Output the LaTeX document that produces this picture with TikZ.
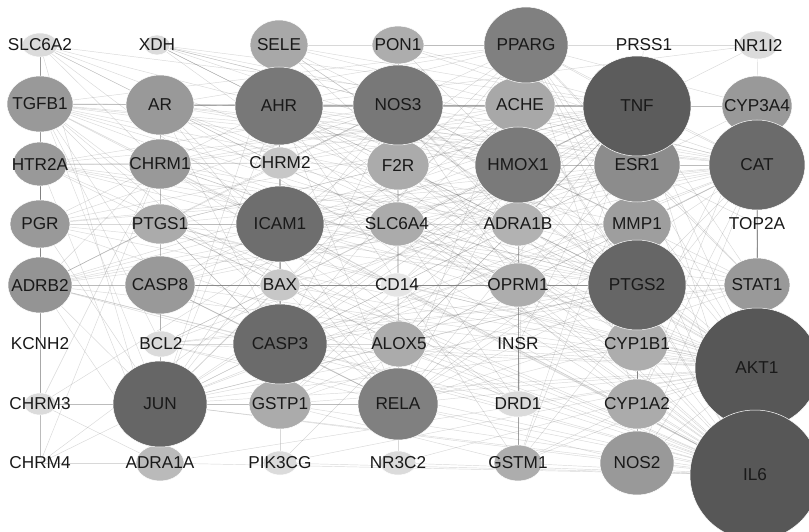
\documentclass[tikz,border=0pt]{standalone}
\usepackage{fontspec}
\setmainfont{Liberation Sans}
\usetikzlibrary{shapes.geometric}
\pgfdeclarelayer{bg}
\pgfsetlayers{bg,main}
\tikzset{
  gnode/.style={ellipse,inner sep=0pt,draw=white,line width=0.5pt,
    font=\fontsize{17.2}{18}\selectfont,text=black!90},
  tnode/.style={inner sep=0pt,font=\fontsize{17.2}{18}\selectfont,text=black!90},
  edge/.style={draw=black!55,line width=0.45pt,opacity=0.28}
}
\newcommand\gn[6]{\node[gnode,minimum width=#4pt,minimum height=#5pt,fill=black!#6] (#1) at (#2,#3) {\makebox[0pt]{#1}};}
\newcommand\tn[3]{\node[tnode] (#1) at (#2,#3) {\makebox[0pt]{#1}};}
\begin{document}
\begin{tikzpicture}[x=1pt,y=-1pt]
\useasboundingbox (0,0) rectangle (809,532);
% text-only
\tn{PRSS1}{644}{45}
\tn{TOP2A}{757}{224}
\tn{KCNH2}{40}{344}
\tn{INSR}{518}{344}
\tn{CHRM4}{40}{463}
% very light
\gn{SLC6A2}{40}{45}{36}{24}{14}
\gn{XDH}{157}{45}{26}{20}{14}
\gn{NR1I2}{758}{45}{40}{28}{14}
\gn{CD14}{397}{285}{34}{24}{10}
\gn{BCL2}{161}{344}{36}{26}{14}
\gn{CHRM3}{40}{404}{32}{22}{14}
\gn{DRD1}{518}{404}{44}{26}{14}
\gn{PIK3CG}{280}{463}{34}{24}{14}
\gn{NR3C2}{398}{463}{36}{24}{14}
\gn{CHRM2}{280}{163}{40}{32}{22}
\gn{BAX}{280}{285}{40}{32}{22}
% light-medium
\gn{ADRA1A}{160}{463}{48}{36}{27}
\gn{PON1}{398}{45}{52}{38}{32}
\gn{SELE}{279}{45}{58}{50}{34}
\gn{ACHE}{520}{105}{70}{56}{34}
\gn{F2R}{398}{165}{62}{50}{33}
\gn{PTGS1}{160}{224}{56}{40}{33}
\gn{SLC6A4}{397}{224}{56}{44}{33}
\gn{ADRA1B}{518}{224}{54}{44}{30}
\gn{OPRM1}{518}{285}{58}{44}{32}
\gn{ALOX5}{399}{344}{54}{46}{33}
\gn{CYP1B1}{637}{344}{62}{54}{32}
\gn{GSTP1}{280}{404}{62}{50}{33}
\gn{CYP1A2}{637}{404}{62}{50}{33}
\gn{GSTM1}{518}{463}{48}{36}{32}
% medium
\gn{TGFB1}{40}{104}{66}{56}{40}
\gn{AR}{160}{105}{68}{60}{40}
\gn{CYP3A4}{757}{106}{70}{60}{40}
\gn{HTR2A}{40}{164}{54}{44}{40}
\gn{CHRM1}{160}{164}{62}{50}{40}
\gn{PGR}{40}{224}{60}{48}{40}
\gn{MMP1}{637}{224}{68}{56}{38}
\gn{ADRB2}{40}{285}{64}{56}{42}
\gn{CASP8}{160}{285}{70}{58}{40}
\gn{STAT1}{757}{285}{66}{54}{40}
\gn{NOS2}{637}{463}{74}{64}{40}
\gn{ESR1}{637}{165}{86}{74}{45}
% darker
\gn{PPARG}{526}{45}{84}{76}{50}
\gn{AHR}{279}{106}{88}{78}{53}
\gn{NOS3}{398}{105}{90}{80}{53}
\gn{HMOX1}{518}{165}{86}{76}{52}
\gn{RELA}{398}{404}{80}{72}{50}
\gn{ICAM1}{280}{224}{88}{76}{57}
\gn{CASP3}{280}{344}{94}{80}{58}
\gn{CAT}{757}{165}{96}{90}{58}
\gn{PTGS2}{637}{285}{98}{90}{60}
\gn{JUN}{160}{404}{94}{86}{60}
\gn{TNF}{637}{106}{108}{100}{64}
\gn{AKT1}{757}{368}{124}{120}{66}
\gn{IL6}{755}{475}{130}{130}{66}
\begin{pgfonlayer}{bg}
\foreach \t in {TGFB1,AR,AHR,NOS3,ACHE,TNF,HTR2A,CHRM1,F2R,HMOX1,ESR1,CAT,PGR,PTGS1,ICAM1,SLC6A4,MMP1,ADRB2,CASP8,BAX,CD14,OPRM1,PTGS2,STAT1,BCL2,CASP3,ALOX5,INSR,CYP1B1,AKT1,JUN,GSTP1,RELA,CYP1A2,GSTM1,NOS2,PIK3CG,NR3C2,SELE,PPARG,XDH,ADRA1A}
  \draw[edge] (IL6) -- (\t);
\foreach \t in {TGFB1,AR,AHR,NOS3,TNF,CYP3A4,CHRM1,F2R,HMOX1,ESR1,CAT,PGR,PTGS1,ICAM1,SLC6A4,MMP1,TOP2A,ADRB2,CASP8,BAX,CD14,OPRM1,PTGS2,STAT1,BCL2,CASP3,ALOX5,INSR,CYP1B1,JUN,GSTP1,RELA,DRD1,CYP1A2,GSTM1,NOS2,PIK3CG,NR3C2,SELE,PPARG,ADRA1A,ADRA1B}
  \draw[edge] (AKT1) -- (\t);
\foreach \t in {TGFB1,AR,AHR,NOS3,ACHE,CYP3A4,HTR2A,CHRM1,CHRM2,F2R,HMOX1,ESR1,CAT,PGR,PTGS1,ICAM1,SLC6A4,ADRA1B,MMP1,ADRB2,CASP8,BAX,CD14,OPRM1,PTGS2,STAT1,BCL2,CASP3,ALOX5,INSR,CYP1B1,JUN,GSTP1,RELA,CYP1A2,GSTM1,NOS2,PIK3CG,SELE,PPARG,PON1,XDH,PRSS1,NR1I2}
  \draw[edge] (TNF) -- (\t);
\foreach \t in {TGFB1,AR,AHR,NOS3,ACHE,HTR2A,CHRM1,F2R,HMOX1,ESR1,CAT,PGR,PTGS1,ICAM1,SLC6A4,MMP1,ADRB2,CASP8,BAX,CD14,OPRM1,STAT1,BCL2,CASP3,ALOX5,CYP1B1,JUN,GSTP1,RELA,CYP1A2,NOS2,PPARG,SELE,XDH}
  \draw[edge] (PTGS2) -- (\t);
\foreach \t in {TGFB1,AR,AHR,NOS3,ACHE,HMOX1,ESR1,PGR,PTGS1,ICAM1,MMP1,ADRB2,CASP8,BAX,CASP3,ALOX5,JUN,GSTP1,RELA,CYP1A2,NOS2,PPARG,SELE,XDH,PON1,STAT1,GSTM1}
  \draw[edge] (CAT) -- (\t);
\foreach \t in {TGFB1,AR,AHR,NOS3,HMOX1,ESR1,PGR,ICAM1,MMP1,ADRB2,CASP8,BAX,CASP3,ALOX5,GSTP1,RELA,CYP1B1,STAT1,NOS2,PPARG,CHRM3,ADRA1A,CHRM4,SELE}
  \draw[edge] (JUN) -- (\t);
\foreach \t in {TGFB1,AR,AHR,NOS3,HMOX1,ESR1,ICAM1,CASP8,BAX,BCL2,MMP1,RELA,GSTP1,ALOX5,STAT1,PPARG,ADRB2,PTGS1,SELE}
  \draw[edge] (CASP3) -- (\t);
\foreach \t in {TGFB1,AR,AHR,NOS3,HMOX1,ESR1,SELE,RELA,STAT1,MMP1,PPARG,CD14,ADRB2,PGR,CASP8,GSTP1,CHRM2,BAX}
  \draw[edge] (ICAM1) -- (\t);
\foreach \t in {TGFB1,AR,AHR,ACHE,HMOX1,ESR1,PPARG,PON1,SELE,F2R,ADRB2,PGR,RELA,MMP1,CHRM1,CHRM2,HTR2A,ADRA1B,SLC6A4,OPRM1,XDH}
  \draw[edge] (NOS3) -- (\t);
\foreach \t in {TGFB1,AR,HMOX1,ESR1,PPARG,CYP1B1,CYP1A2,CYP3A4,NR1I2,ACHE,SLC6A2,XDH,PGR,GSTM1,GSTP1,RELA,STAT1,CHRM2}
  \draw[edge] (AHR) -- (\t);
\foreach \t in {TGFB1,AR,ESR1,PPARG,RELA,GSTP1,GSTM1,STAT1,MMP1,XDH,PON1,ALOX5}
  \draw[edge] (HMOX1) -- (\t);
\foreach \t in {TGFB1,AR,ESR1,RELA,MMP1,STAT1,PON1,CYP1A2,CYP3A4,NR1I2,GSTM1,SELE,ACHE}
  \draw[edge] (PPARG) -- (\t);
\foreach \t in {TGFB1,AR,ESR1,MMP1,STAT1,CASP8,BCL2,BAX,GSTP1,CYP1B1,NOS2,NR3C2}
  \draw[edge] (RELA) -- (\t);
\foreach \t in {TGFB1,AR,PGR,MMP1,CYP1B1,CYP1A2,CYP3A4,STAT1,ADRB2,CASP8,BCL2,TOP2A,GSTM1}
  \draw[edge] (ESR1) -- (\t);
\foreach \t in {AR,MMP1,STAT1,CASP8,PGR,HTR2A,SLC6A2,BCL2,BAX}
  \draw[edge] (TGFB1) -- (\t);
\foreach \t in {SLC6A4,HTR2A,ADRA1A,ADRA1B,ADRB2,CHRM1,OPRM1,DRD1,ACHE,TGFB1}
  \draw[edge] (SLC6A2) -- (\t);
\foreach \t in {CHRM1,CHRM2,SLC6A4,ADRA1A,ADRA1B,DRD1,OPRM1,CHRM3,CHRM4,ADRB2,KCNH2,PGR}
  \draw[edge] (HTR2A) -- (\t);
\foreach \t in {CHRM2,ACHE,ADRA1B,DRD1,OPRM1,CHRM3,CHRM4,ADRB2,PTGS1}
  \draw[edge] (CHRM1) -- (\t);
\foreach \t in {CHRM2,CHRM3,CHRM4,OPRM1,DRD1,SLC6A4,TNF}
  \draw[edge] (ACHE) -- (\t);
\foreach \t in {ADRA1A,ADRA1B,DRD1,OPRM1,CHRM2,PGR,KCNH2,PTGS1}
  \draw[edge] (ADRB2) -- (\t);
\foreach \t in {CHRM1,AHR}
  \draw[edge] (AR) -- (\t);
\foreach \t in {CASP8,ALOX5,ICAM1}
  \draw[edge] (PTGS1) -- (\t);
\foreach \t in {BAX,BCL2,CD14,RELA}
  \draw[edge] (CASP8) -- (\t);
\foreach \t in {JUN,STAT1,BAX}
  \draw[edge] (BCL2) -- (\t);
\foreach \t in {JUN,ADRA1A}
  \draw[edge] (CHRM3) -- (\t);
\foreach \t in {CHRM3}
  \draw[edge] (KCNH2) -- (\t);
\foreach \t in {CHRM3,ADRA1A}
  \draw[edge] (CHRM4) -- (\t);
\foreach \t in {NOS3,F2R,ICAM1}
  \draw[edge] (CHRM2) -- (\t);
\foreach \t in {NOS3}
  \draw[edge] (PON1) -- (\t);
\foreach \t in {SLC6A4,PTGS1}
  \draw[edge] (F2R) -- (\t);
\foreach \t in {CD14,OPRM1,DRD1}
  \draw[edge] (SLC6A4) -- (\t);
\foreach \t in {ALOX5,OPRM1}
  \draw[edge] (CD14) -- (\t);
\foreach \t in {RELA}
  \draw[edge] (ALOX5) -- (\t);
\foreach \t in {OPRM1}
  \draw[edge] (ADRA1B) -- (\t);
\foreach \t in {INSR,DRD1}
  \draw[edge] (OPRM1) -- (\t);
\foreach \t in {DRD1,GSTM1}
  \draw[edge] (INSR) -- (\t);
\foreach \t in {GSTM1}
  \draw[edge] (DRD1) -- (\t);
\foreach \t in {CYP1A2,CYP3A4,PTGS1}
  \draw[edge] (CYP1B1) -- (\t);
\foreach \t in {NOS2,CYP3A4,GSTM1}
  \draw[edge] (CYP1A2) -- (\t);
\foreach \t in {STAT1}
  \draw[edge] (NOS2) -- (\t);
\foreach \t in {GSTM1,PIK3CG}
  \draw[edge] (GSTP1) -- (\t);
\foreach \t in {CYP3A4}
  \draw[edge] (NR1I2) -- (\t);
\foreach \t in {STAT1}
  \draw[edge] (TOP2A) -- (\t);
\foreach \t in {AHR,NOS3}
  \draw[edge] (XDH) -- (\t);
\end{pgfonlayer}
\end{tikzpicture}
\end{document}
